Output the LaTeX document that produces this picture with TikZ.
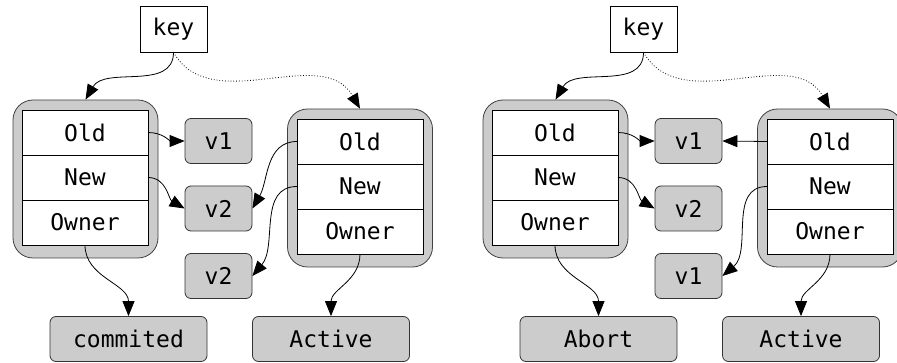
\documentclass[tikz,border=0pt]{standalone}
\usepackage{fontspec}
\setmonofont{DejaVu Sans Mono}
\usetikzlibrary{positioning}
\usetikzlibrary{arrows.meta}

\begin{document}
\begin{tikzpicture}[x = 1pt, y = -1pt, line width = 0.8pt,
every node/.style={font=\ttfamily\fontsize{23}{25}\selectfont},
rec/.style={draw = black!75, fill = black!20, rounded corners = 20pt, minimum width = 145pt, minimum height = 158pt, inner sep = 0pt},
row/.style={draw, fill = white, minimum width = 126pt, minimum height = 45pt, inner sep = 0pt, outer sep = 0pt},
val/.style={draw = black!80, fill = black!20, rounded corners = 6pt, minimum width = 67pt, minimum height = 45pt, inner sep = 0pt},
state/.style={val, minimum width = 157pt},
keybox/.style={draw, fill = white, minimum width = 67pt, minimum height = 46pt, inner sep = 0pt},
ptr/.style={-{Triangle[length = 15pt, width = 12pt]}}]
\useasboundingbox (0,0) rectangle (897,363);
\clip (0,0) rectangle (897,363);

% left case: old version commited
\node[keybox] (key1) at (173.5,29) {key};
\node[rec] (reca1) at (85.5,179) {};
\node[row] (olda1) at (85,132.5) {Old};
\node[row, below = 0pt of olda1] (newa1) {New};
\node[row, below = 0pt of newa1] (owna1) {Owner};
\node[rec] (recb1) at (360,188) {};
\node[row] (oldb1) at (360,141.5) {Old};
\node[row, below = 0pt of oldb1] (newb1) {New};
\node[row, below = 0pt of newb1] (ownb1) {Owner};
\node[val] (va1) at (218.5,141) {v1};
\node[val] (vb1) at (218.5,208.5) {v2};
\node[val] (vc1) at (218.5,276) {v2};
\node[state] (sa1) at (128.5,339) {commited};
\node[state] (sb1) at (331,339) {Active};
\draw[ptr] (key1.south) to[out = -90, in = 60] (reca1.north);
\draw[ptr, dotted] (key1.south) to[out = -60, in = 120] (recb1.north);
\draw[ptr] (olda1.east) to[out = 0, in = 180] (va1.west);
\draw[ptr] (newa1.east) to[out = 0, in = 150] (vb1.west);
\draw[ptr] (owna1.south) to[out = -90, in = 90] (sa1.north);
\draw[ptr] (oldb1.west) to[out = 180, in = 60] (vb1.east);
\draw[ptr] (newb1.west) to[out = 180, in = 50] (vc1.east);
\draw[ptr] (ownb1.south) to[out = -90, in = 90] (sb1.north);

% right case: old version aborted
\node[keybox] (key2) at (643.5,29) {key};
\node[rec] (reca2) at (555.5,179) {};
\node[row] (olda2) at (555,132.5) {Old};
\node[row, below = 0pt of olda2] (newa2) {New};
\node[row, below = 0pt of newa2] (owna2) {Owner};
\node[rec] (recb2) at (830,188) {};
\node[row] (oldb2) at (830,141.5) {Old};
\node[row, below = 0pt of oldb2] (newb2) {New};
\node[row, below = 0pt of newb2] (ownb2) {Owner};
\node[val] (va2) at (688.5,141) {v1};
\node[val] (vb2) at (688.5,208.5) {v2};
\node[val] (vc2) at (688.5,276) {v1};
\node[state] (sa2) at (598.5,339) {Abort};
\node[state] (sb2) at (801,339) {Active};
\draw[ptr] (key2.south) to[out = -90, in = 60] (reca2.north);
\draw[ptr, dotted] (key2.south) to[out = -60, in = 120] (recb2.north);
\draw[ptr] (olda2.east) to[out = 0, in = 180] (va2.west);
\draw[ptr] (newa2.east) to[out = 0, in = 150] (vb2.west);
\draw[ptr] (owna2.south) to[out = -90, in = 90] (sa2.north);
\draw[ptr] (oldb2.west) -- (va2.east);
\draw[ptr] (newb2.west) to[out = 180, in = 40] (vc2.east);
\draw[ptr] (ownb2.south) to[out = -90, in = 90] (sb2.north);
\end{tikzpicture}
\end{document}
